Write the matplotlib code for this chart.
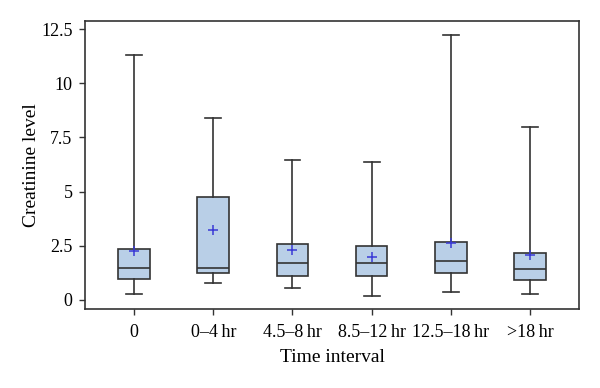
import matplotlib
matplotlib.use('Agg')
import matplotlib.pyplot as plt

labels = ['0', '0\u20134\u2009hr', '4.5\u20138\u2009hr', '8.5\u201312\u2009hr', '12.5\u201318\u2009hr', '>18\u2009hr']
whislo = [0.28, 0.78, 0.57, 0.17, 0.35, 0.26]
q1 = [0.97, 1.26, 1.08, 1.08, 1.26, 0.91]
med = [1.48, 1.46, 1.68, 1.68, 1.78, 1.43]
q3 = [2.35, 4.77, 2.58, 2.49, 2.68, 2.18]
whishi = [11.3, 8.41, 6.47, 6.38, 12.22, 7.98]
mean = [2.26, 3.21, 2.29, 2.0, 2.64, 2.08]

plt.rcParams['font.family'] = ['Liberation Serif', 'DejaVu Serif']

stats = []
for i in range(len(labels)):
    stats.append({'label': labels[i], 'whislo': whislo[i], 'q1': q1[i], 'med': med[i],
                  'q3': q3[i], 'whishi': whishi[i], 'mean': mean[i], 'fliers': []})

fig = plt.figure(figsize=(6, 3.88), dpi=100)
ax = fig.add_axes([0.1417, 0.2036, 0.8233, 0.7423])
edge = '#333333'
ax.bxp(stats, positions=range(len(labels)), widths=0.4, patch_artist=True, showmeans=True,
       boxprops=dict(facecolor='#b9cfe7', edgecolor=edge, linewidth=1.2),
       medianprops=dict(color=edge, linewidth=1.2),
       whiskerprops=dict(color=edge, linewidth=1.2),
       capprops=dict(color=edge, linewidth=1.2),
       meanprops=dict(marker='+', markeredgecolor='#3a3ad6', markersize=7, markeredgewidth=1.1))
ax.set_xlim(-0.62, 5.62)
ax.set_ylim(-0.42, 12.87)
ax.set_yticks([0, 2.5, 5, 7.5, 10, 12.5])
ax.set_yticklabels(['0', '2.5', '5', '7.5', '10', '12.5'])
ax.tick_params(labelsize=13, length=4.5, color=edge, width=1)
ax.tick_params(axis='x', pad=6)
ax.tick_params(axis='y', pad=4.5)
for s in ax.spines.values():
    s.set_color(edge)
    s.set_linewidth(1.2)
ax.set_xlabel('Time interval', fontsize=14, labelpad=6)
ax.set_ylabel('Creatinine level', fontsize=14, labelpad=1)
fig.savefig('out.png', dpi=100)
